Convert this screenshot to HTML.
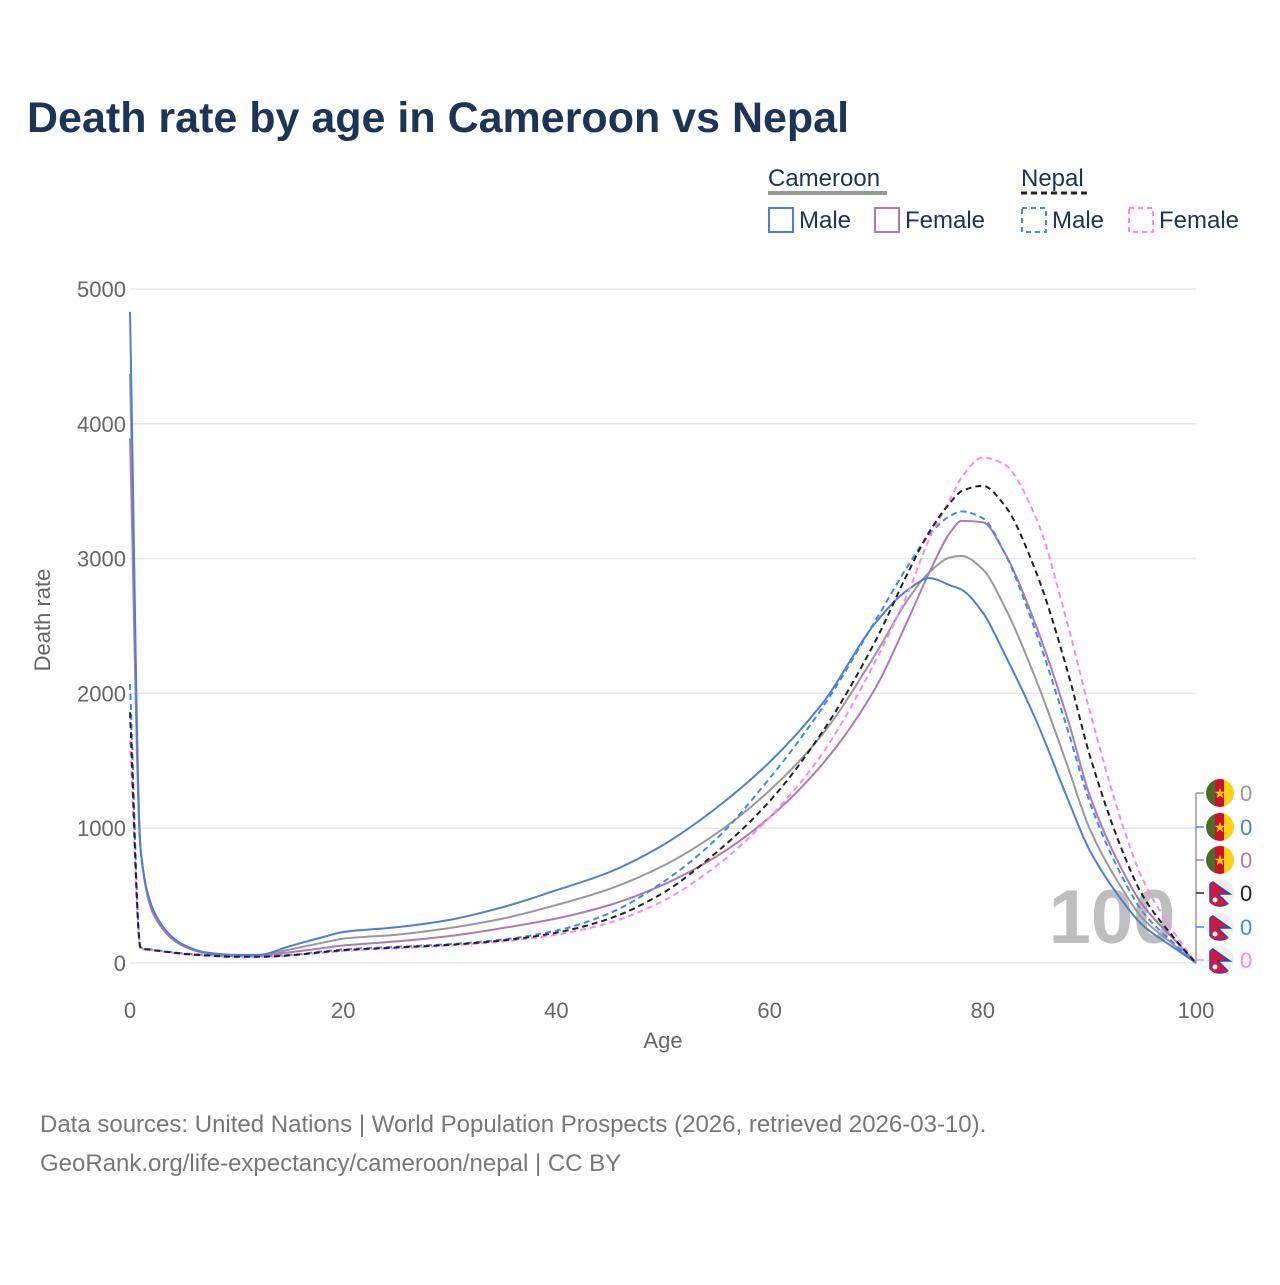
<!DOCTYPE html>
<html><head><meta charset="utf-8">
<style>
body{margin:0;background:#fff;}
svg{font-family:"Liberation Sans",sans-serif;}
</style></head>
<body>
<svg id="chart" width="1280" height="1280" viewBox="0 0 1280 1280">
<defs id="defs"></defs>
<text x="27" y="132" font-size="43" font-weight="bold" fill="#1c3557">Death rate by age in Cameroon vs Nepal</text>
<g font-size="24" fill="#1c3557">
<text x="768" y="186">Cameroon</text>
<line x1="768" y1="193" x2="887" y2="193" stroke="#999" stroke-width="4"/>
<text x="1021" y="186">Nepal</text>
<line x1="1021" y1="193" x2="1088" y2="193" stroke="#222" stroke-width="3" stroke-dasharray="6,4"/>
<rect x="769" y="208" width="24" height="24" fill="none" stroke="#4f7fd0" stroke-width="2"/>
<text x="799" y="228">Male</text>
<rect x="875" y="208" width="24" height="24" fill="none" stroke="#b07aae" stroke-width="2"/>
<text x="905" y="228">Female</text>
<rect x="1022" y="208" width="24" height="24" fill="none" stroke="#3b8bf5" stroke-width="2" stroke-dasharray="5,4"/>
<text x="1052" y="228">Male</text>
<rect x="1129" y="208" width="24" height="24" fill="none" stroke="#ff88ee" stroke-width="2" stroke-dasharray="5,4"/>
<text x="1159" y="228">Female</text>
</g>
<g id="grid"></g>
<text x="1112" y="943" font-size="76" font-weight="bold" fill="#bbb" text-anchor="middle" opacity="0.95">100</text>
<g id="series"></g>
<g id="endlabels"></g>
<text x="50" y="620" font-size="22" fill="#666" text-anchor="middle" transform="rotate(-90 50 620)">Death rate</text>
<text x="663" y="1048" font-size="22" fill="#666" text-anchor="middle">Age</text>
<text x="40" y="1132" font-size="24" fill="#777">Data sources: United Nations | World Population Prospects (2026, retrieved 2026-03-10).</text>
<text x="40" y="1171" font-size="24" fill="#777">GeoRank.org/life-expectancy/cameroon/nepal | CC BY</text>
</svg>
<script>
const ages=[0,1,2,3,4,5,7,10,12,15,18,20,25,30,35,40,45,50,55,60,65,70,73,75,77,78,80,82,85,88,90,93,95,98,100];
const camMale=[4830,840,430,280,190,135,80,60,60,125,190,230,265,320,415,540,675,875,1150,1490,1930,2530,2770,2855,2800,2770,2600,2300,1800,1210,840,470,280,110,0];
const camFemale=[3890,830,400,260,175,125,75,55,55,80,110,130,160,200,260,330,430,580,790,1080,1480,2050,2550,2900,3200,3280,3270,3050,2500,1800,1250,700,430,170,0];
const camTotal=[4370,840,415,270,180,130,78,58,58,100,150,180,210,260,330,430,550,720,960,1280,1700,2300,2700,2900,3010,3020,2920,2650,2100,1450,1000,560,330,130,0];
const npMale=[2070,115,100,90,80,72,60,50,50,60,85,100,120,140,175,240,370,600,920,1370,1900,2550,2950,3180,3320,3350,3300,3050,2450,1720,1200,650,380,140,0];
const npTotal=[1860,110,97,87,77,68,57,46,46,57,80,95,115,135,168,225,330,520,820,1200,1720,2400,2900,3200,3420,3500,3540,3400,2900,2150,1550,850,500,180,0];
const npFemale=[1650,105,95,85,75,65,55,42,42,55,75,90,110,130,160,210,300,460,720,1080,1560,2250,2750,3150,3450,3600,3750,3700,3300,2500,1880,1050,620,220,0];
const yTicks=[0,1000,2000,3000,4000,5000];
const xTicks=[0,20,40,60,80,100];
const endValues=["0","0","0","0","0","0"];

const NS="http://www.w3.org/2000/svg";
const X0=130,X1=1196,Y0=963,Y1=289;
function xs(a){return X0+(X1-X0)*a/100;}
function ys(v){return Y0-(Y0-Y1)*v/5000;}
function mk(t,attrs,parent){const e=document.createElementNS(NS,t);for(const k in attrs)e.setAttribute(k,attrs[k]);parent.appendChild(e);return e;}
const grid=document.getElementById('grid');
yTicks.forEach(v=>{
  const l=mk('line',{x1:X0,x2:X1,y1:ys(v),y2:ys(v),stroke:'#e8e8e8','stroke-width':1.5},grid);
  
  
  const t=mk('text',{x:126,y:ys(v)+8,'font-size':22,fill:'#666','text-anchor':'end'},grid);
  t.textContent=v;
  
  
});
xTicks.forEach(a=>{
  const t=mk('text',{x:xs(a),y:1018,'font-size':22,fill:'#666','text-anchor':'middle'},grid);
  t.textContent=a;
  
  
});
function pathFor(vals){
  const x=ages.map(xs),y=vals.map(ys),n=x.length;
  const d=[],m=new Array(n);
  for(let i=0;i<n-1;i++)d.push((y[i+1]-y[i])/(x[i+1]-x[i]));
  m[0]=d[0];m[n-1]=d[n-2];
  for(let i=1;i<n-1;i++){
    if(d[i-1]*d[i]<=0)m[i]=0;
    else{const w1=2*(x[i+1]-x[i])+(x[i]-x[i-1]),w2=(x[i+1]-x[i])+2*(x[i]-x[i-1]);
      m[i]=(w1+w2)/(w1/d[i-1]+w2/d[i]);}
  }
  let s='M'+x[0].toFixed(1)+','+y[0].toFixed(1);
  for(let i=0;i<n-1;i++){
    const h=(x[i+1]-x[i])/3;
    s+=' C'+(x[i]+h).toFixed(1)+','+(y[i]+m[i]*h).toFixed(1)+' '+(x[i+1]-h).toFixed(1)+','+(y[i+1]-m[i+1]*h).toFixed(1)+' '+x[i+1].toFixed(1)+','+y[i+1].toFixed(1);
  }
  return s;
}
const sg=document.getElementById('series');
const defs=[
 [camTotal,'#999','','series-cameroon-total'],
 [camFemale,'#b07aae','','series-cameroon-female'],
 [camMale,'#4f7fd0','','series-cameroon-male'],
 [npMale,'#3b8bf5','6,4','series-nepal-male'],
 [npFemale,'#ff88ee','6,4','series-nepal-female'],
 [npTotal,'#222','6,4','series-nepal-total']
];
defs.forEach(s=>{
  const e=mk('path',{d:pathFor(s[0]),fill:'none',stroke:s[1],'stroke-width':2,'stroke-dasharray':s[2]||'none','stroke-linejoin':'round'},sg);
  
  
});
const el=document.getElementById('endlabels');
const dfs=document.getElementById('defs');
const endCols=['#999','#4f7fd0','#b07aae','#222','#3b8bf5','#ff88ee'];
const endY=[793,827,860,893,927,960];
mk('line',{x1:1196,x2:1196,y1:793,y2:963,stroke:'#999','stroke-width':1.5},el);
endCols.forEach((c,i)=>{
  const y=endY[i];
  mk('line',{x1:1196,x2:1204,y1:y,y2:y,stroke:c,'stroke-width':1.5},el);
  const cp=mk('clipPath',{id:'fc'+i},dfs);
  mk('circle',{cx:1220,cy:y,r:14},cp);
  const g=mk('g',{'clip-path':'url(#fc'+i+')'},el);
  
  
  if(i<3){
    mk('rect',{x:1206,y:y-14,width:10,height:28,fill:'#4a6b2a'},g);
    mk('rect',{x:1215,y:y-14,width:10,height:28,fill:'#ce1126'},g);
    mk('rect',{x:1224,y:y-14,width:10,height:28,fill:'#fcd116'},g);
    const st=mk('text',{x:1220,y:y+5,'font-size':14,fill:'#fcd116','text-anchor':'middle'},g);st.textContent='★';
  }else{
    mk('rect',{x:1206,y:y-14,width:28,height:28,fill:'#eee'},g);
    mk('path',{d:`M1210,${y-13} L1230,${y+1} L1218,${y+1} L1230,${y+13} L1210,${y+13}Z`,fill:'#dc143c',stroke:'#1f4fa8','stroke-width':1.5},g);
    mk('circle',{cx:1215,cy:y+7,r:2.5,fill:'#fff'},g);
  }
  const t=mk('text',{x:1240,y:y+8,'font-size':22,fill:c},el);
  t.textContent=endValues[i];
  
  
});
</script>
</body></html>
